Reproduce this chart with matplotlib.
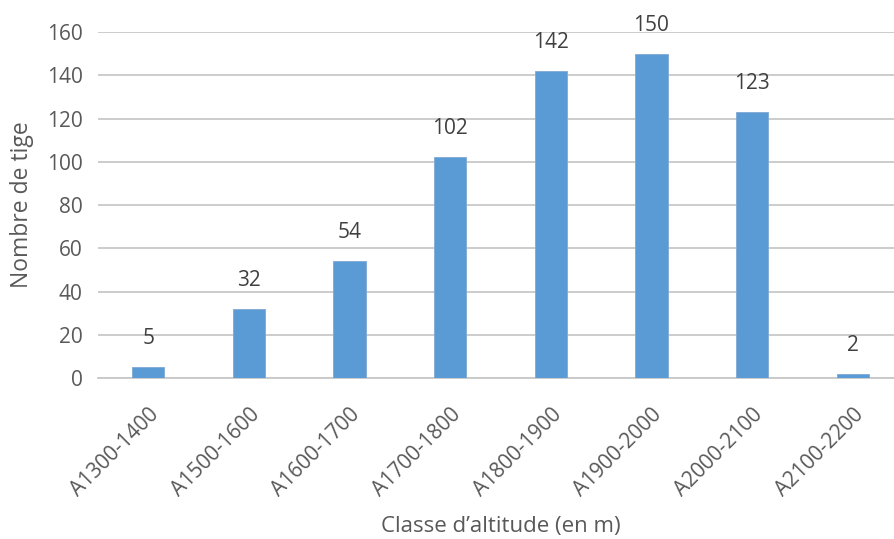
import matplotlib.pyplot as plt
import numpy as np

classes = ['A1300-1400', 'A1500-1600', 'A1600-1700', 'A1700-1800',
           'A1800-1900', 'A1900-2000', 'A2000-2100', 'A2100-2200']
tiges = [5, 32, 54, 102, 142, 150, 123, 2]

plt.rcParams['font.family'] = ['Open Sans', 'DejaVu Sans']
gris = '#595959'

fig = plt.figure(figsize=(8.95, 5.39), dpi=100)
ax = fig.add_axes([0.1095, 0.2987, 0.8994, 0.6419])

x = np.arange(len(classes))
bars = ax.bar(x, tiges, width=0.32, color='#5b9bd5', edgecolor='#7fa9d3',
              linewidth=0.6, zorder=3)

# valeurs au-dessus des barres
for b, v in zip(bars, tiges):
    ax.annotate(str(v), (b.get_x() + b.get_width() / 2, v),
                xytext=(0, 13), textcoords='offset points',
                ha='center', va='bottom', fontsize=15, color='#404040')

ax.set_xlim(-0.5, len(classes) - 0.5)
ax.set_ylim(0, 160)
ax.set_yticks(range(0, 161, 20))
ax.yaxis.grid(True, color='#c8c8c8', linewidth=1.3, zorder=0)

ax.set_xticks(x)
ax.set_xticklabels(classes, rotation=45, ha='right', rotation_mode='anchor',
                   fontsize=15, color=gris)
ax.tick_params(axis='x', length=0, pad=19)
ax.tick_params(axis='y', length=0, pad=11, labelsize=15, labelcolor=gris)

for s in ['top', 'right', 'left']:
    ax.spines[s].set_visible(False)
ax.spines['bottom'].set_color('#c8c8c8')
ax.spines['bottom'].set_linewidth(1.3)

ax.set_ylabel('Nombre de tige', fontsize=16.5, color=gris, labelpad=9)
ax.set_xlabel('Classe d\u2019altitude (en m)', fontsize=16, color=gris)
ax.xaxis.set_label_coords(0.5, -0.398)

fig.savefig('out.png', dpi=100)
